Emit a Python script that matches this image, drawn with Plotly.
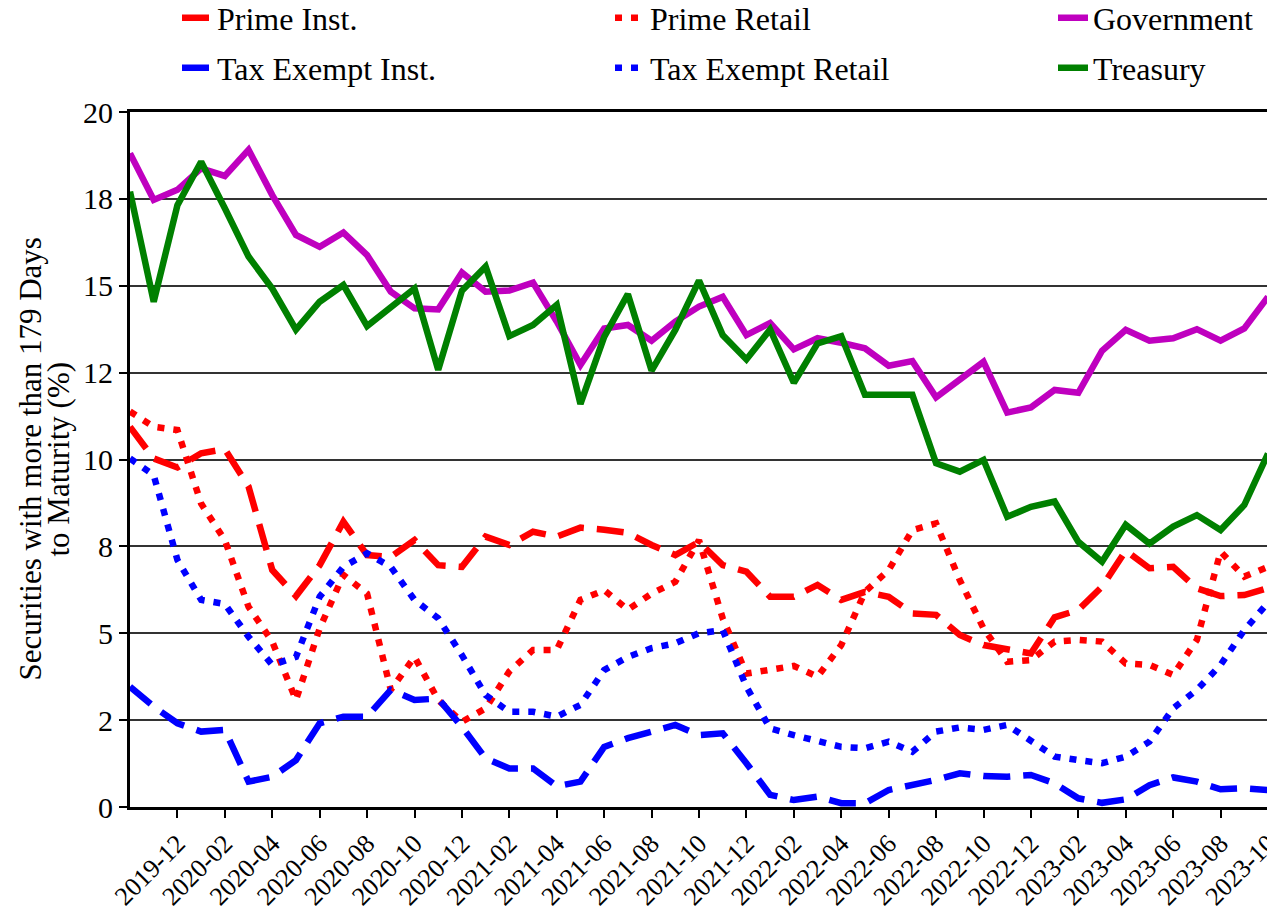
import plotly.graph_objects as go

months = [f"{y}-{m:02d}" for y, m in
          [(2019, 10), (2019, 11), (2019, 12)] +
          [(yy, mm) for yy in (2020, 2021, 2022) for mm in range(1, 13)] +
          [(2023, mm) for mm in range(1, 11)]]

prime_inst = [10.94, 10.03, 9.77, 10.18, 10.30, 9.22, 6.82, 6.07, 6.96, 8.21,
              7.25, 7.20, 7.68, 6.96, 6.91, 7.78, 7.54, 7.92, 7.78, 8.04,
              7.98, 7.89, 7.54, 7.25, 7.63, 6.96, 6.77, 6.05, 6.05, 6.39,
              5.96, 6.19, 6.05, 5.57, 5.53, 4.95, 4.66, 4.52, 4.42, 5.46,
              5.67, 6.34, 7.38, 6.87, 6.91, 6.29, 6.07, 6.10, 6.30]
prime_retail = [11.38, 10.94, 10.85, 8.73, 7.68, 5.76, 4.76, 3.08, 5.14, 6.68,
                6.14, 3.37, 4.32, 3.08, 2.45, 2.84, 3.90, 4.52, 4.52, 5.96,
                6.24, 5.68, 6.14, 6.48, 7.68, 5.43, 3.84, 3.94, 4.06, 3.75,
                4.66, 6.19, 6.82, 7.97, 8.16, 6.53, 5.14, 4.18, 4.23, 4.76,
                4.81, 4.76, 4.13, 4.09, 3.80, 4.81, 7.35, 6.63, 6.91]
government = [18.81, 17.47, 17.76, 18.38, 18.16, 18.91, 17.61, 16.46, 16.12, 16.53,
              15.88, 14.83, 14.35, 14.32, 15.38, 14.83, 14.86, 15.09, 13.97, 12.72,
              13.77, 13.87, 13.42, 13.97, 14.40, 14.68, 13.58, 13.93, 13.17, 13.49,
              13.36, 13.20, 12.70, 12.83, 11.79, 12.30, 12.81, 11.35, 11.50, 12.00,
              11.92, 13.13, 13.73, 13.42, 13.49, 13.75, 13.42, 13.77, 14.68]
tax_exempt_inst = [3.46, 2.89, 2.41, 2.17, 2.22, 0.73, 0.87, 1.35, 2.41, 2.60,
                   2.60, 3.37, 3.08, 3.12, 2.31, 1.40, 1.11, 1.11, 0.60, 0.73,
                   1.73, 1.98, 2.17, 2.36, 2.07, 2.12, 1.26, 0.35, 0.20, 0.30,
                   0.11, 0.11, 0.49, 0.63, 0.78, 0.97, 0.89, 0.87, 0.92, 0.68,
                   0.25, 0.12, 0.22, 0.63, 0.85, 0.73, 0.51, 0.54, 0.49]
tax_exempt_retail = [10.03, 9.55, 7.11, 5.96, 5.84, 4.90, 4.09, 4.32, 6.05, 6.91,
                     7.30, 6.91, 5.96, 5.43, 4.37, 3.22, 2.74, 2.74, 2.60, 2.94,
                     3.94, 4.32, 4.57, 4.71, 5.00, 5.09, 3.46, 2.26, 2.07, 1.88,
                     1.73, 1.69, 1.88, 1.59, 2.17, 2.29, 2.22, 2.36, 1.93, 1.45,
                     1.35, 1.26, 1.45, 1.88, 2.84, 3.37, 4.09, 5.09, 5.88]
treasury = [17.71, 14.54, 17.32, 18.57, 17.23, 15.84, 14.92, 13.74, 14.54, 15.02,
            13.84, 14.38, 14.92, 12.58, 14.86, 15.55, 13.55, 13.87, 14.45, 11.60,
            13.53, 14.76, 12.56, 13.73, 15.15, 13.58, 12.88, 13.74, 12.21, 13.34,
            13.55, 11.86, 11.88, 11.86, 9.89, 9.65, 9.99, 8.35, 8.64, 8.79,
            7.63, 7.06, 8.12, 7.58, 8.07, 8.40, 7.97, 8.69, 10.17]

series_names = ["Prime Inst.", "Prime Retail", "Government",
                "Tax Exempt Inst.", "Tax Exempt Retail", "Treasury"]
series_values = [prime_inst, prime_retail, government,
                 tax_exempt_inst, tax_exempt_retail, treasury]
series_colors = ["#ff0000", "#ff0000", "#bf00bf", "#0000ff", "#0000ff", "#008000"]
series_dash = ["27px,13px", "7px,9px", "solid", "27px,13px", "7px,9px", "solid"]

y_tickvals = [0, 2.5, 5, 7.5, 10, 12.5, 15, 17.5, 20]
y_ticktext = ["0", "2", "5", "8", "10", "12", "15", "18", "20"]
x_ticks = months[2::2]

# figure sits 8px inside the page (body margin)
FW, FH = 1267, 906
legend_x_px = [169, 602, 1045]      # columns
legend_y_px = [10, 60]              # rows

fig = go.Figure()
legend_layouts = {}
for k, (name, vals, color, dash) in enumerate(zip(series_names, series_values,
                                                   series_colors, series_dash)):
    leg = "legend" if k == 0 else f"legend{k + 1}"
    fig.add_trace(go.Scatter(x=months, y=vals, name=name, mode="lines",
                             legend=leg,
                             line=dict(color=color, width=6.5, dash=dash)))
    col, row = k % 3, k // 3
    legend_layouts[leg] = dict(
        xref="container", yref="container",
        x=legend_x_px[col] / FW, y=1 - legend_y_px[row] / FH,
        xanchor="left", yanchor="middle",
        font=dict(size=32), bgcolor="rgba(0,0,0,0)")

font_family = "Liberation Serif"
fig.update_layout(
    width=FW, height=FH,
    margin=dict(l=122, r=7, t=104, b=107, autoexpand=False),
    paper_bgcolor="white", plot_bgcolor="white",
    font=dict(family=font_family, size=30, color="black"),
    showlegend=True,
    **legend_layouts,
)
fig.update_xaxes(type="category", range=[0, len(months) - 1],
                 tickmode="array", tickvals=x_ticks, ticktext=x_ticks,
                 tickangle=-45, ticks="outside", ticklen=8, tickwidth=2,
                 tickcolor="black", showline=True, linecolor="black",
                 linewidth=3, mirror=True, showgrid=False,
                 tickfont=dict(size=26))
fig.update_yaxes(range=[0, 20], tickmode="array", tickvals=y_tickvals,
                 ticktext=y_ticktext, ticks="outside", ticklen=8, tickwidth=2,
                 tickcolor="black", showline=True, linecolor="black",
                 linewidth=3, mirror=True, showgrid=True, gridcolor="#333333",
                 gridwidth=2, zeroline=False, tickfont=dict(size=30))

plot_w = FW - 122 - 7
for text, xpx in [("Securities with more than 179 Days", 22),
                  ("to Maturity (%)", 50)]:
    fig.add_annotation(text=text, xref="paper", yref="paper",
                       x=(xpx - 122) / plot_w, y=0.5, textangle=-90,
                       xanchor="center", yanchor="middle", showarrow=False,
                       font=dict(size=31))

fig.write_html("out.html")
